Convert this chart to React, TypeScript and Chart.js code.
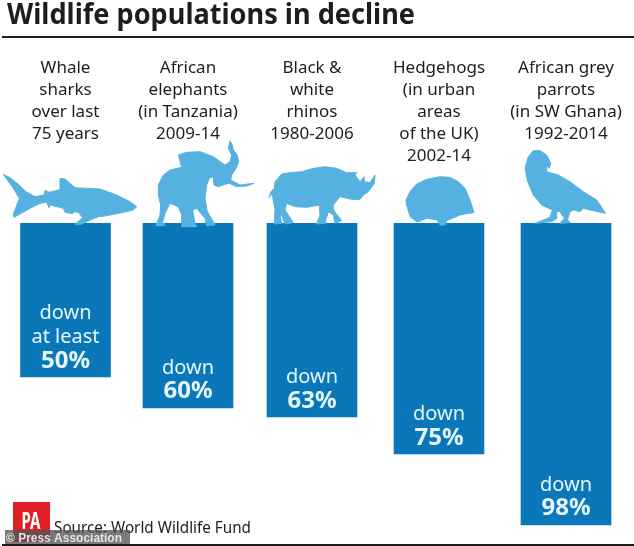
import React, { useEffect, useRef } from "react";
import { Chart, registerables } from "chart.js";

Chart.register(...registerables);

const categories = ["Whale sharks", "African elephants", "Black & white rhinos", "Hedgehogs", "African grey parrots"];
const declinePercent = [50, 60, 63, 75, 98];
const headerLines = [
  ["Whale", "sharks", "over last", "75 years"],
  ["African", "elephants", "(in Tanzania)", "2009-14"],
  ["Black &", "white", "rhinos", "1980-2006"],
  ["Hedgehogs", "(in urban", "areas", "of the UK)", "2002-14"],
  ["African grey", "parrots", "(in SW Ghana)", "1992-2014"],
];
const downLines = [["down", "at least"], ["down"], ["down"], ["down"], ["down"]];
const titleText = "Wildlife populations in decline";
const sourceText = "Source: World Wildlife Fund";
const creditText = "© Press Association";
const logoText = "PA";

// Column spacing on the value axis is slightly uneven in the source graphic.
const columnSlots = [0, 0.979, 1.97, 2.985, 4];

const FONT = '"Noto Sans", sans-serif';
const BAR = "#0A78B8";
const ANIMAL = "#55B1E0";
const PALE = "#E4F5FC";

// Decorative silhouettes: [originX, originY, outline in 1/3 px units]
type Shape = { ox: number; oy: number; pts: number[] };
const silhouettes: Shape[] = [
  { ox: 0, oy: 165, pts: [10,28,30,38,55,58,78,80,105,95,132,90,135,76,147,82,180,74,180,40,195,42,225,68,300,72,350,90,390,110,410,125,400,135,370,142,320,152,295,155,270,165,245,178,225,178,248,158,235,142,222,140,218,146,195,142,190,130,150,120,147,128,140,112,120,115,90,130,42,157,40,148,58,100,40,70] },
  { ox: 150, oy: 135, pts: [240,18,247,30,250,45,262,60,266,80,258,100,245,120,242,135,270,150,312,145,290,153,260,155,238,145,225,148,205,155,192,150,190,125,178,130,170,150,165,190,172,230,190,260,195,270,170,272,165,250,140,220,128,225,135,265,140,275,95,275,95,240,85,215,60,205,45,235,38,262,45,272,18,272,30,240,32,210,25,180,25,150,40,120,60,105,95,97,85,60,110,52,150,50,190,65,225,90,240,80,245,60,235,40] },
  { ox: 265, oy: 160, pts: [12,113,18,95,28,85,30,65,50,42,75,38,110,35,145,25,180,20,215,25,245,38,275,38,270,45,285,65,298,50,297,65,315,68,330,45,328,70,310,95,295,105,285,118,260,118,225,110,205,135,205,150,230,182,210,190,205,165,190,155,180,190,155,192,165,165,163,135,125,142,90,140,65,130,60,150,85,188,60,192,50,165,45,165,50,190,28,192,30,145,25,125,22,100] },
  { ox: 400, oy: 170, pts: [20,105,18,90,30,65,50,42,80,28,120,20,150,22,175,35,195,55,210,90,222,128,205,130,180,135,140,152,135,165,120,165,112,150,80,145,55,155,50,155,30,140] },
  { ox: 515, oy: 140, pts: [30,85,40,50,55,32,75,32,95,45,107,70,103,85,95,78,95,95,130,105,165,125,205,155,245,180,272,220,235,212,205,205,195,215,175,210,165,215,158,238,165,248,135,250,148,235,135,215,125,215,125,235,110,245,60,250,105,232,112,210,80,195,55,165,38,125] },
];

const artwork = {
  id: "artwork",
  afterDatasetsDraw(chart: any) {
    const ctx = chart.ctx;
    const bars = chart.getDatasetMeta(0).data;
    ctx.save();

    ctx.fillStyle = "#1d1d1b";
    ctx.font = `bold 28px ${FONT}`;
    ctx.textAlign = "left";
    ctx.textBaseline = "alphabetic";
    ctx.fillText(titleText, 7, 24, 408);
    ctx.fillRect(2, 36, 632, 2);

    ctx.fillStyle = ANIMAL;
    ctx.strokeStyle = ANIMAL;
    ctx.lineWidth = 1;
    ctx.lineJoin = "round";
    silhouettes.forEach((s) => {
      ctx.beginPath();
      for (let i = 0; i < s.pts.length; i += 2) {
        const x = s.ox + s.pts[i] / 3;
        const y = s.oy + s.pts[i + 1] / 3;
        if (i === 0) ctx.moveTo(x, y);
        else ctx.lineTo(x, y);
      }
      ctx.closePath();
      ctx.fill();
      ctx.stroke();
    });

    ctx.textAlign = "center";
    bars.forEach((bar: any, i: number) => {
      ctx.fillStyle = "#1d1d1b";
      ctx.font = `17px ${FONT}`;
      headerLines[i].forEach((line, k) => ctx.fillText(line, bar.x, 73 + k * 22.1));

      ctx.fillStyle = PALE;
      const pctY = bar.y - 9.5;
      ctx.font = `bold 24px ${FONT}`;
      ctx.fillText(`${declinePercent[i]}%`, bar.x, pctY);
      ctx.font = `20px ${FONT}`;
      const lines = downLines[i];
      lines.forEach((line, k) => ctx.fillText(line, bar.x, pctY - 24.5 * (lines.length - k)));
    });

    ctx.fillStyle = "#E01F26";
    ctx.fillRect(13, 502, 37, 40);
    ctx.fillStyle = "#ffffff";
    ctx.font = `bold 23px ${FONT}`;
    ctx.fillText(logoText, 31, 529, 19);

    ctx.textAlign = "left";
    ctx.fillStyle = "#1d1d1b";
    ctx.font = `15.5px ${FONT}`;
    ctx.fillText(sourceText, 54, 533, 197);

    ctx.fillStyle = "rgba(85,85,85,0.78)";
    ctx.fillRect(5, 530, 125, 14);
    ctx.fillStyle = "rgba(235,235,235,0.95)";
    ctx.font = 'bold 13.5px "Liberation Sans", sans-serif';
    ctx.fillText(creditText, 6, 542, 116);

    ctx.fillStyle = "#1d1d1b";
    ctx.fillRect(2, 544, 632, 2);
    ctx.restore();
  },
};

export default function App() {
  const ref = useRef<HTMLCanvasElement>(null);
  useEffect(() => {
    document.body.style.margin = "0";
    const chart = new Chart(ref.current!, {
      type: "bar",
      data: {
        labels: categories,
        datasets: [
          {
            data: declinePercent.map((v, i) => ({ x: columnSlots[i], y: v })),
            backgroundColor: BAR,
            borderWidth: 0,
            barThickness: 90,
          },
        ],
      },
      options: {
        animation: false,
        responsive: false,
        layout: { padding: { top: 223, bottom: 15, left: 0, right: 0 } },
        plugins: { legend: { display: false }, tooltip: { enabled: false }, title: { display: false } },
        scales: {
          x: { type: "linear", display: false, offset: false, min: -0.5235, max: 4.5435, grid: { display: false } },
          y: { display: false, reverse: true, min: 0, max: 100, grid: { display: false } },
        },
      },
      plugins: [artwork],
    } as any);
    return () => chart.destroy();
  }, []);
  return <canvas ref={ref} width={634} height={546} style={{ display: "block" }} />;
}
